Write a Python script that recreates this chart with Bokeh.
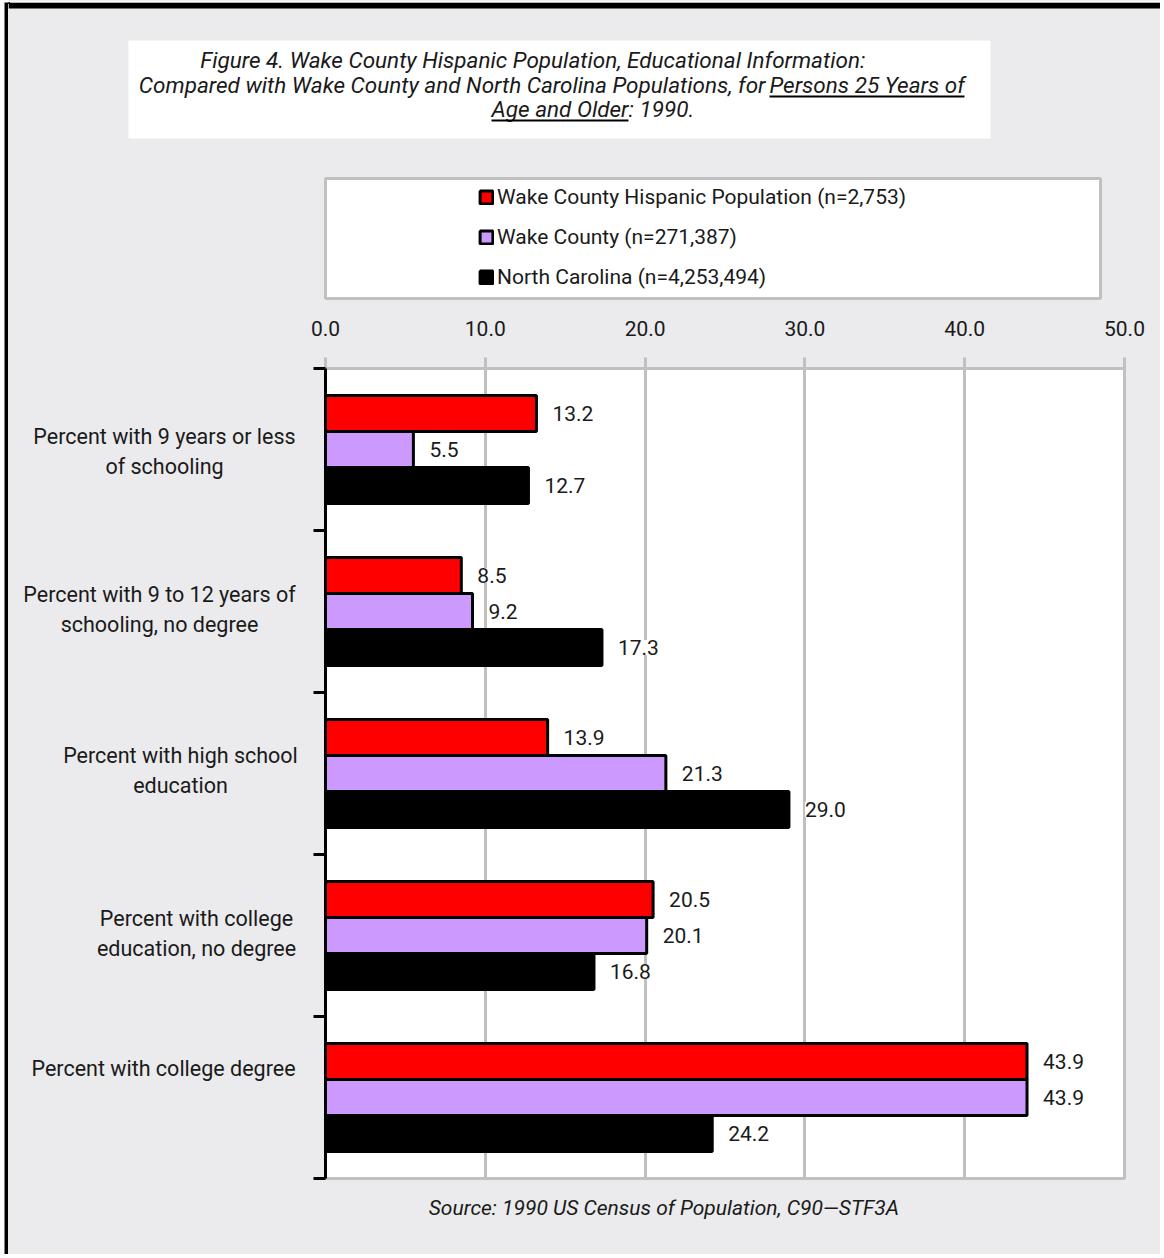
from bokeh.plotting import figure
from bokeh.layouts import column, row
from bokeh.models import (Range1d, FixedTicker, NumeralTickFormatter, Legend, LegendItem, Span)
from bokeh.core.properties import value
from bokeh.embed import file_html
from bokeh.resources import INLINE

# ---------------- data ----------------
categories = [
    "Percent with 9 years or less\nof schooling",
    "Percent with 9 to 12 years of\nschooling, no degree",
    "Percent with high school\neducation",
    "Percent with college\neducation, no degree",
    "Percent with college degree",
]
hispanic = [13.2, 8.5, 13.9, 20.5, 43.9]
wake = [5.5, 9.2, 21.3, 20.1, 43.9]
north_carolina = [12.7, 17.3, 29.0, 16.8, 24.2]
series_names = [
    "Wake County Hispanic Population (n=2,753)",
    "Wake County (n=271,387)",
    "North Carolina (n=4,253,494)",
]
series_colors = ["#FF0000", "#CC99FF", "#000000"]
x_ticks = [0, 10, 20, 30, 40, 50]
title_lines = [
    "Figure 4.  Wake County Hispanic Population, Educational Information:",
    "Compared with Wake County and North Carolina Populations, for",
    "Persons 25 Years of",
    "Age and Older",
    ":  1990.",
]
source_text = "Source:  1990 US Census of Population, C90\u2014STF3A"

FONT = "Roboto"
TXT = "#1a1a1a"
GRAY = "#C0C0C0"
BG = "#EBEBED"

TOTAL_W, TOTAL_H = 1160, 1254
STRIP = 8                      # white 4px + black 4px frame line
W = TOTAL_W - STRIP
H_TOP, H_MID = 305, 875
H_BOT = TOTAL_H - H_TOP - H_MID
W_LEFT = 300
W_MAIN = W - W_LEFT
MB_TOP, MB_BOT = 63, 2
n = len(categories)


def blank(width, height, xr, yr, bg=BG, border=BG, top=0, left=0):
    return figure(width=width, height=height, x_range=xr, y_range=yr,
                  x_axis_type=None, y_axis_type=None, output_backend="svg",
                  toolbar_location=None, min_border_left=left, min_border_right=0,
                  min_border_top=top, min_border_bottom=0,
                  background_fill_color=bg, border_fill_color=border,
                  outline_line_color=None)

# left frame line (white gap, then black)
strip = blank(STRIP, TOTAL_H, Range1d(0, 1), Range1d(0, 1), bg="black", border="white",
              top=2, left=4)

# ---------------- top: title + legend (page coordinates) ----------------
top = blank(W, H_TOP, Range1d(STRIP, STRIP + W), Range1d(H_TOP, 2), border="white", top=2)
top.add_layout(Span(location=5, dimension="width", line_color="black", line_width=6))
top.quad(left=[128], right=[990], top=[40], bottom=[138], fill_color="white", line_color=None)
tkw = dict(text_baseline="middle", text_font=value(FONT), text_font_style="italic",
           text_font_size="22.5px", text_color=TXT)
top.text(x=[535], y=[59], text=[title_lines[0]], text_align="center", **tkw)
top.text(x=[765], y=[84], text=[title_lines[1]], text_align="right", **tkw)
top.text(x=[769], y=[84], text=[title_lines[2]], text_align="left", **tkw)
top.text(x=[628], y=[108], text=[title_lines[3]], text_align="right", **tkw)
top.text(x=[628], y=[108], text=[title_lines[4]], text_align="left", **tkw)
top.quad(left=[769, 491], right=[964, 628], top=[95, 119], bottom=[97, 121],
         fill_color="black", line_color=None)
# legend frame
top.quad(left=[325], right=[1100], top=[178], bottom=[298], fill_color="white",
         line_color=GRAY, line_width=3)
items = []
for name, color in zip(series_names, series_colors):
    # legend proxy, drawn outside the visible range
    r = top.hbar(y=[-100], left=[0], right=[1], height=1, fill_color=color,
                 line_color="black", line_width=3)
    items.append(LegendItem(label=name, renderers=[r]))
legend = Legend(items=items, location=(470, 16), orientation="vertical",
                padding=0, margin=0, spacing=16, label_height=24,
                glyph_height=16, glyph_width=16, label_standoff=3,
                border_line_color=None, background_fill_alpha=0,
                label_text_font=FONT, label_text_font_size="21px",
                label_text_color=TXT)
top.add_layout(legend)

# ---------------- main chart ----------------
y_range = Range1d(n, 0)
p = figure(width=W_MAIN, height=H_MID, x_range=Range1d(0, 50), y_range=y_range,
           x_axis_location="above", output_backend="svg", toolbar_location=None,
           min_border_left=17, min_border_right=36, min_border_top=MB_TOP,
           min_border_bottom=MB_BOT,
           background_fill_color="white", border_fill_color=BG,
           outline_line_color=GRAY, outline_line_width=3)
p.xaxis.ticker = FixedTicker(ticks=x_ticks)
p.xaxis.formatter = NumeralTickFormatter(format="0.0")
p.xaxis.major_tick_out = 11
p.xaxis.major_tick_in = 0
p.xaxis.major_tick_line_color = GRAY
p.xaxis.major_tick_line_width = 3
p.xaxis.minor_tick_line_color = None
p.xaxis.axis_line_color = GRAY
p.xaxis.axis_line_width = 3
p.xaxis.major_label_standoff = 22
p.xaxis.major_label_text_font = FONT
p.xaxis.major_label_text_font_size = "21px"
p.xaxis.major_label_text_color = TXT

p.yaxis.ticker = FixedTicker(ticks=list(range(n + 1)))
p.yaxis.major_label_overrides = {i: "" for i in range(n + 1)}
p.yaxis.major_label_standoff = 0
p.yaxis.major_tick_out = 12
p.yaxis.major_tick_in = 0
p.yaxis.major_tick_line_color = "black"
p.yaxis.major_tick_line_width = 3
p.yaxis.minor_tick_line_color = None
p.yaxis.axis_line_color = "black"
p.yaxis.axis_line_width = 3

p.xgrid.ticker = FixedTicker(ticks=x_ticks)
p.xgrid.grid_line_color = GRAY
p.xgrid.grid_line_width = 3
p.ygrid.grid_line_color = None

offsets = [-0.222, 0.0, 0.222]
bar_h = 0.222
for k, (vals, color) in enumerate(zip([hispanic, wake, north_carolina], series_colors)):
    ys = [i + 0.5 + offsets[k] for i in range(n)]
    p.hbar(y=ys, left=0, right=vals, height=bar_h, fill_color=color,
           line_color="black", line_width=3)
    p.text(x=vals, y=ys, text=[f"{v:.1f}" for v in vals], x_offset=16,
           text_align="left", text_baseline="middle", text_font=value(FONT),
           text_font_size="21px", text_color=TXT, background_fill_color="white")

# ---------------- left: category labels ----------------
left = figure(width=W_LEFT, height=H_MID, x_range=Range1d(STRIP, STRIP + W_LEFT), y_range=y_range,
              x_axis_type=None, y_axis_type=None, output_backend="svg",
              toolbar_location=None, min_border_left=0, min_border_right=0,
              min_border_top=MB_TOP, min_border_bottom=MB_BOT,
              background_fill_color=BG, border_fill_color=BG, outline_line_color=None)
cat_x = [164, 159, 180, 196, 163]
cat_nudge = [2, -2, -3, -2, -29]
left.text(x=cat_x, y=[i + 0.5 for i in range(n)], y_offset=cat_nudge, text=categories,
          text_align="center", text_baseline="middle", text_font=value(FONT),
          text_font_size="21.5px", text_color=TXT, text_line_height=1.17)

# ---------------- bottom: source ----------------
y0 = H_TOP + H_MID
bot = blank(W, H_BOT, Range1d(STRIP, STRIP + W), Range1d(y0 + H_BOT, y0))
bot.text(x=[666], y=[1207], text=[source_text], text_align="center", text_baseline="middle",
         text_font=value(FONT), text_font_style="italic", text_font_size="21px", text_color=TXT)

inner = column(top, row(left, p, styles={"background-color": BG}), bot,
               styles={"background-color": BG})
layout = row(strip, inner)
open("out.html", "w").write(file_html(layout, INLINE))
